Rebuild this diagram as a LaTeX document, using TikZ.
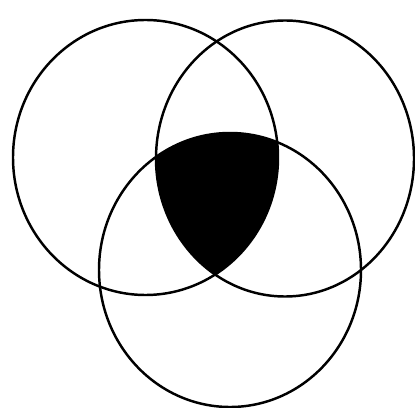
\documentclass[tikz,border=0pt]{standalone}
\usepackage{tikz}
\tikzset{
  setline/.style={draw, line width=1.4pt},
  core/.style={fill=black}
}

\begin{document}
\begin{tikzpicture}[x=0.02cm,y=-0.02cm]
  \useasboundingbox (0,0) rectangle (415,408);
  \coordinate (ca) at (145.5,157.5);
  \coordinate (cb) at (285,158.5);
  \coordinate (cc) at (230,270);
  % triple overlap
  \begin{scope}
    \clip (ca) ellipse[x radius=132.5, y radius=137.5];
    \clip (cb) ellipse[x radius=129, y radius=138];
    \fill[core] (cc) ellipse[x radius=131, y radius=137];
  \end{scope}
  \path[setline] (ca) ellipse[x radius=132.5, y radius=137.5];
  \path[setline] (cb) ellipse[x radius=129, y radius=138];
  \path[setline] (cc) ellipse[x radius=131, y radius=137];
\end{tikzpicture}
\end{document}
